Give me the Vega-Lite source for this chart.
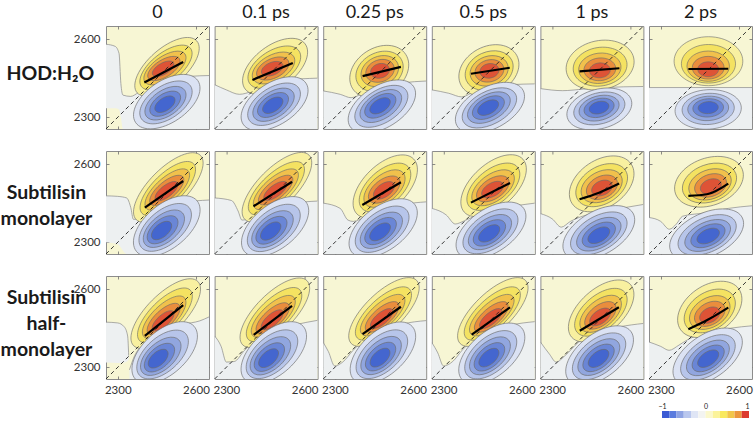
{
"$schema": "https://vega.github.io/schema/vega-lite/v6.json",
"padding": {"left": 0, "top": 4, "right": 2, "bottom": 0},
"background": "white",
"config": {
  "font": "Lato",
  "view": {"fill": "#f7f6d4", "stroke": "#8c8c8c", "strokeWidth": 1},
  "axis": {"ticks": false, "domain": false, "grid": true, "gridDash": [3, 97, 3], "gridColor": "#6f6f6f", "gridWidth": 0.8, "labelFontSize": 11.5, "labelColor": "#333333", "labelFont": "Lato"},
  "axisX": {"labelPadding": 5},
  "axisY": {"labelPadding": 6}
},
"datasets": {
"bar": [
{"i":0,"a":-1,"b":-0.8333},{"i":1,"a":-0.8333,"b":-0.6667},{"i":2,"a":-0.6667,"b":-0.5},{"i":3,"a":-0.5,"b":-0.3333},{"i":4,"a":-0.3333,"b":-0.1667},{"i":5,"a":-0.1667,"b":0},{"i":6,"a":0,"b":0.1667},{"i":7,"a":0.1667,"b":0.3333},{"i":8,"a":0.3333,"b":0.5},{"i":9,"a":0.5,"b":0.6667},{"i":10,"a":0.6667,"b":0.8333},{"i":11,"a":0.8333,"b":1}
],
"main": [
{"R":1,"C":1,"k":"z","g":1,"x":2255,"y":2580,"b":2335},{"R":1,"C":1,"k":"z","g":1,"x":2290,"y":2572,"b":2335},{"R":1,"C":1,"k":"z","g":1,"x":2305,"y":2545,"b":2330},{"R":1,"C":1,"k":"z","g":1,"x":2312,"y":2430,"b":2300},{"R":1,"C":1,"k":"z","g":1,"x":2320,"y":2385,"b":2255},{"R":1,"C":1,"k":"z","g":1,"x":2350,"y":2380,"b":2255},{"R":1,"C":1,"k":"z","g":1,"x":2380,"y":2395,"b":2255},{"R":1,"C":1,"k":"z","g":1,"x":2420,"y":2415,"b":2255},{"R":1,"C":1,"k":"z","g":1,"x":2460,"y":2435,"b":2255},{"R":1,"C":1,"k":"z","g":1,"x":2520,"y":2450,"b":2255},{"R":1,"C":1,"k":"z","g":1,"x":2580,"y":2457,"b":2255},{"R":1,"C":1,"k":"z","g":1,"x":2650,"y":2460,"b":2255},
{"R":1,"C":2,"k":"z","g":1,"x":2255,"y":2425,"b":2255},{"R":1,"C":2,"k":"z","g":1,"x":2300,"y":2405,"b":2255},{"R":1,"C":2,"k":"z","g":1,"x":2350,"y":2388,"b":2255},{"R":1,"C":2,"k":"z","g":1,"x":2400,"y":2400,"b":2255},{"R":1,"C":2,"k":"z","g":1,"x":2460,"y":2425,"b":2255},{"R":1,"C":2,"k":"z","g":1,"x":2530,"y":2442,"b":2255},{"R":1,"C":2,"k":"z","g":1,"x":2650,"y":2450,"b":2255},
{"R":1,"C":3,"k":"z","g":1,"x":2255,"y":2401,"b":2255},{"R":1,"C":3,"k":"z","g":1,"x":2320,"y":2388,"b":2255},{"R":1,"C":3,"k":"z","g":1,"x":2362,"y":2375,"b":2255},{"R":1,"C":3,"k":"z","g":1,"x":2420,"y":2398,"b":2255},{"R":1,"C":3,"k":"z","g":1,"x":2495,"y":2420,"b":2255},{"R":1,"C":3,"k":"z","g":1,"x":2560,"y":2432,"b":2255},{"R":1,"C":3,"k":"z","g":1,"x":2650,"y":2439,"b":2255},
{"R":1,"C":4,"k":"z","g":1,"x":2255,"y":2405,"b":2255},{"R":1,"C":4,"k":"z","g":1,"x":2320,"y":2392,"b":2255},{"R":1,"C":4,"k":"z","g":1,"x":2370,"y":2378,"b":2255},{"R":1,"C":4,"k":"z","g":1,"x":2420,"y":2400,"b":2255},{"R":1,"C":4,"k":"z","g":1,"x":2490,"y":2418,"b":2255},{"R":1,"C":4,"k":"z","g":1,"x":2560,"y":2425,"b":2255},{"R":1,"C":4,"k":"z","g":1,"x":2650,"y":2428,"b":2255},
{"R":1,"C":5,"k":"z","g":1,"x":2255,"y":2410,"b":2255},{"R":1,"C":5,"k":"z","g":1,"x":2340,"y":2402,"b":2255},{"R":1,"C":5,"k":"z","g":1,"x":2420,"y":2408,"b":2255},{"R":1,"C":5,"k":"z","g":1,"x":2500,"y":2414,"b":2255},{"R":1,"C":5,"k":"z","g":1,"x":2650,"y":2418,"b":2255},
{"R":1,"C":6,"k":"z","g":1,"x":2255,"y":2414,"b":2255},{"R":1,"C":6,"k":"z","g":1,"x":2650,"y":2414,"b":2255},
{"R":2,"C":1,"k":"z","g":1,"x":2255,"y":2478,"b":2300},{"R":2,"C":1,"k":"z","g":1,"x":2300,"y":2476,"b":2292},{"R":2,"C":1,"k":"z","g":1,"x":2334,"y":2470,"b":2255},{"R":2,"C":1,"k":"z","g":1,"x":2350,"y":2433,"b":2255},{"R":2,"C":1,"k":"z","g":1,"x":2360,"y":2388,"b":2255},{"R":2,"C":1,"k":"z","g":1,"x":2385,"y":2390,"b":2255},{"R":2,"C":1,"k":"z","g":1,"x":2420,"y":2405,"b":2255},{"R":2,"C":1,"k":"z","g":1,"x":2470,"y":2430,"b":2255},{"R":2,"C":1,"k":"z","g":1,"x":2550,"y":2452,"b":2255},{"R":2,"C":1,"k":"z","g":1,"x":2650,"y":2462,"b":2255},
{"R":2,"C":2,"k":"z","g":1,"x":2255,"y":2470,"b":2255},{"R":2,"C":2,"k":"z","g":1,"x":2320,"y":2460,"b":2255},{"R":2,"C":2,"k":"z","g":1,"x":2345,"y":2420,"b":2255},{"R":2,"C":2,"k":"z","g":1,"x":2360,"y":2385,"b":2255},{"R":2,"C":2,"k":"z","g":1,"x":2400,"y":2395,"b":2255},{"R":2,"C":2,"k":"z","g":1,"x":2470,"y":2425,"b":2255},{"R":2,"C":2,"k":"z","g":1,"x":2550,"y":2448,"b":2255},{"R":2,"C":2,"k":"z","g":1,"x":2650,"y":2458,"b":2255},
{"R":2,"C":3,"k":"z","g":1,"x":2255,"y":2450,"b":2255},{"R":2,"C":3,"k":"z","g":1,"x":2320,"y":2430,"b":2255},{"R":2,"C":3,"k":"z","g":1,"x":2350,"y":2385,"b":2255},{"R":2,"C":3,"k":"z","g":1,"x":2370,"y":2380,"b":2255},{"R":2,"C":3,"k":"z","g":1,"x":2420,"y":2400,"b":2255},{"R":2,"C":3,"k":"z","g":1,"x":2480,"y":2425,"b":2255},{"R":2,"C":3,"k":"z","g":1,"x":2560,"y":2445,"b":2255},{"R":2,"C":3,"k":"z","g":1,"x":2650,"y":2455,"b":2255},
{"R":2,"C":4,"k":"z","g":1,"x":2255,"y":2430,"b":2255},{"R":2,"C":4,"k":"z","g":1,"x":2310,"y":2405,"b":2255},{"R":2,"C":4,"k":"z","g":1,"x":2345,"y":2370,"b":2255},{"R":2,"C":4,"k":"z","g":1,"x":2375,"y":2380,"b":2255},{"R":2,"C":4,"k":"z","g":1,"x":2430,"y":2405,"b":2255},{"R":2,"C":4,"k":"z","g":1,"x":2500,"y":2425,"b":2255},{"R":2,"C":4,"k":"z","g":1,"x":2650,"y":2450,"b":2255},
{"R":2,"C":5,"k":"z","g":1,"x":2255,"y":2410,"b":2255},{"R":2,"C":5,"k":"z","g":1,"x":2300,"y":2390,"b":2255},{"R":2,"C":5,"k":"z","g":1,"x":2335,"y":2358,"b":2255},{"R":2,"C":5,"k":"z","g":1,"x":2370,"y":2380,"b":2255},{"R":2,"C":5,"k":"z","g":1,"x":2450,"y":2410,"b":2255},{"R":2,"C":5,"k":"z","g":1,"x":2550,"y":2428,"b":2255},{"R":2,"C":5,"k":"z","g":1,"x":2650,"y":2445,"b":2255},
{"R":2,"C":6,"k":"z","g":1,"x":2255,"y":2395,"b":2255},{"R":2,"C":6,"k":"z","g":1,"x":2300,"y":2380,"b":2255},{"R":2,"C":6,"k":"z","g":1,"x":2333,"y":2350,"b":2255},{"R":2,"C":6,"k":"z","g":1,"x":2360,"y":2370,"b":2255},{"R":2,"C":6,"k":"z","g":1,"x":2384,"y":2400,"b":2255},{"R":2,"C":6,"k":"z","g":1,"x":2473,"y":2413,"b":2255},{"R":2,"C":6,"k":"z","g":1,"x":2560,"y":2430,"b":2255},{"R":2,"C":6,"k":"z","g":1,"x":2650,"y":2440,"b":2255},
{"R":3,"C":1,"k":"z","g":1,"x":2255,"y":2473,"b":2318},{"R":3,"C":1,"k":"z","g":1,"x":2300,"y":2470,"b":2316},{"R":3,"C":1,"k":"z","g":1,"x":2325,"y":2455,"b":2318},{"R":3,"C":1,"k":"z","g":1,"x":2338,"y":2420,"b":2325},{"R":3,"C":1,"k":"z","g":1,"x":2342,"y":2345,"b":2330},
{"R":3,"C":1,"k":"z","g":2,"x":2345,"y":2290,"b":2255},{"R":3,"C":1,"k":"z","g":2,"x":2365,"y":2345,"b":2255},{"R":3,"C":1,"k":"z","g":2,"x":2380,"y":2370,"b":2255},{"R":3,"C":1,"k":"z","g":2,"x":2424,"y":2414,"b":2255},{"R":3,"C":1,"k":"z","g":2,"x":2487,"y":2446,"b":2255},{"R":3,"C":1,"k":"z","g":2,"x":2550,"y":2465,"b":2255},{"R":3,"C":1,"k":"z","g":2,"x":2615,"y":2478,"b":2255},{"R":3,"C":1,"k":"z","g":2,"x":2650,"y":2493,"b":2255},
{"R":3,"C":2,"k":"z","g":1,"x":2255,"y":2420,"b":2255},{"R":3,"C":2,"k":"z","g":1,"x":2280,"y":2380,"b":2255},{"R":3,"C":2,"k":"z","g":1,"x":2300,"y":2320,"b":2255},{"R":3,"C":2,"k":"z","g":1,"x":2330,"y":2322,"b":2255},{"R":3,"C":2,"k":"z","g":1,"x":2370,"y":2365,"b":2255},{"R":3,"C":2,"k":"z","g":1,"x":2430,"y":2418,"b":2255},{"R":3,"C":2,"k":"z","g":1,"x":2500,"y":2445,"b":2255},{"R":3,"C":2,"k":"z","g":1,"x":2560,"y":2462,"b":2255},{"R":3,"C":2,"k":"z","g":1,"x":2650,"y":2480,"b":2255},
{"R":3,"C":3,"k":"z","g":1,"x":2255,"y":2395,"b":2255},{"R":3,"C":3,"k":"z","g":1,"x":2275,"y":2360,"b":2255},{"R":3,"C":3,"k":"z","g":1,"x":2299,"y":2305,"b":2255},{"R":3,"C":3,"k":"z","g":1,"x":2330,"y":2320,"b":2255},{"R":3,"C":3,"k":"z","g":1,"x":2369,"y":2364,"b":2255},{"R":3,"C":3,"k":"z","g":1,"x":2433,"y":2422,"b":2255},{"R":3,"C":3,"k":"z","g":1,"x":2500,"y":2447,"b":2255},{"R":3,"C":3,"k":"z","g":1,"x":2560,"y":2466,"b":2255},{"R":3,"C":3,"k":"z","g":1,"x":2650,"y":2479,"b":2255},
{"R":3,"C":4,"k":"z","g":1,"x":2255,"y":2395,"b":2255},{"R":3,"C":4,"k":"z","g":1,"x":2278,"y":2355,"b":2255},{"R":3,"C":4,"k":"z","g":1,"x":2300,"y":2305,"b":2255},{"R":3,"C":4,"k":"z","g":1,"x":2335,"y":2322,"b":2255},{"R":3,"C":4,"k":"z","g":1,"x":2372,"y":2366,"b":2255},{"R":3,"C":4,"k":"z","g":1,"x":2435,"y":2420,"b":2255},{"R":3,"C":4,"k":"z","g":1,"x":2500,"y":2445,"b":2255},{"R":3,"C":4,"k":"z","g":1,"x":2560,"y":2462,"b":2255},{"R":3,"C":4,"k":"z","g":1,"x":2650,"y":2475,"b":2255},
{"R":3,"C":5,"k":"z","g":1,"x":2255,"y":2397,"b":2255},{"R":3,"C":5,"k":"z","g":1,"x":2290,"y":2350,"b":2255},{"R":3,"C":5,"k":"z","g":1,"x":2315,"y":2320,"b":2255},{"R":3,"C":5,"k":"z","g":1,"x":2350,"y":2345,"b":2255},{"R":3,"C":5,"k":"z","g":1,"x":2400,"y":2395,"b":2255},{"R":3,"C":5,"k":"z","g":1,"x":2470,"y":2430,"b":2255},{"R":3,"C":5,"k":"z","g":1,"x":2560,"y":2455,"b":2255},{"R":3,"C":5,"k":"z","g":1,"x":2650,"y":2468,"b":2255},
{"R":3,"C":6,"k":"z","g":1,"x":2255,"y":2397,"b":2255},{"R":3,"C":6,"k":"z","g":1,"x":2300,"y":2380,"b":2255},{"R":3,"C":6,"k":"z","g":1,"x":2332,"y":2365,"b":2255},{"R":3,"C":6,"k":"z","g":1,"x":2370,"y":2385,"b":2255},{"R":3,"C":6,"k":"z","g":1,"x":2409,"y":2409,"b":2255},{"R":3,"C":6,"k":"z","g":1,"x":2498,"y":2435,"b":2255},{"R":3,"C":6,"k":"z","g":1,"x":2570,"y":2450,"b":2255},{"R":3,"C":6,"k":"z","g":1,"x":2650,"y":2459,"b":2255},

{"R":1,"C":1,"k":"e","v":0.17,"m":0.17,"x":2489,"y":2493,"t":41,"f":"a"},{"R":1,"C":1,"k":"e","v":0.33,"m":0.33,"x":2485,"y":2491,"t":38,"f":"a"},{"R":1,"C":1,"k":"e","v":0.5,"m":0.5,"x":2481,"y":2489,"t":35,"f":"a"},{"R":1,"C":1,"k":"e","v":0.67,"m":0.67,"x":2477,"y":2487,"t":32,"f":"a"},{"R":1,"C":1,"k":"e","v":0.83,"m":0.83,"x":2474,"y":2486,"t":30,"f":"a"},
{"R":1,"C":1,"k":"e","v":-0.17,"m":0.17,"x":2488,"y":2360,"t":34,"f":"b"},{"R":1,"C":1,"k":"e","v":-0.33,"m":0.33,"x":2485,"y":2357,"t":34,"f":"b"},{"R":1,"C":1,"k":"e","v":-0.5,"m":0.5,"x":2483,"y":2354,"t":34,"f":"b"},{"R":1,"C":1,"k":"e","v":-0.67,"m":0.67,"x":2482,"y":2352,"t":34,"f":"b"},{"R":1,"C":1,"k":"e","v":-0.83,"m":0.83,"x":2481,"y":2350,"t":34,"f":"b"},
{"R":1,"C":2,"k":"e","v":0.17,"m":0.17,"x":2487,"y":2495,"t":37,"f":"b"},{"R":1,"C":2,"k":"e","v":0.33,"m":0.33,"x":2484,"y":2492,"t":33,"f":"b"},{"R":1,"C":2,"k":"e","v":0.5,"m":0.5,"x":2481,"y":2489,"t":29,"f":"b"},{"R":1,"C":2,"k":"e","v":0.67,"m":0.67,"x":2478,"y":2487,"t":26,"f":"b"},{"R":1,"C":2,"k":"e","v":0.83,"m":0.83,"x":2476,"y":2486,"t":23,"f":"b"},
{"R":1,"C":2,"k":"e","v":-0.17,"m":0.17,"x":2485,"y":2352,"t":33,"f":"b"},{"R":1,"C":2,"k":"e","v":-0.33,"m":0.33,"x":2483,"y":2350,"t":33,"f":"b"},{"R":1,"C":2,"k":"e","v":-0.5,"m":0.5,"x":2481,"y":2348,"t":33,"f":"b"},{"R":1,"C":2,"k":"e","v":-0.67,"m":0.67,"x":2479,"y":2347,"t":33,"f":"b"},{"R":1,"C":2,"k":"e","v":-0.83,"m":0.83,"x":2478,"y":2346,"t":33,"f":"b"},
{"R":1,"C":3,"k":"e","v":0.17,"m":0.17,"x":2470,"y":2475,"t":33,"f":"c"},{"R":1,"C":3,"k":"e","v":0.33,"m":0.33,"x":2471,"y":2476,"t":28,"f":"c"},{"R":1,"C":3,"k":"e","v":0.5,"m":0.5,"x":2472,"y":2477,"t":24,"f":"c"},{"R":1,"C":3,"k":"e","v":0.67,"m":0.67,"x":2473,"y":2478,"t":20,"f":"c"},{"R":1,"C":3,"k":"e","v":0.83,"m":0.83,"x":2473,"y":2478,"t":16,"f":"c"},
{"R":1,"C":3,"k":"e","v":-0.17,"m":0.17,"x":2480,"y":2341,"t":32,"f":"b"},{"R":1,"C":3,"k":"e","v":-0.33,"m":0.33,"x":2478,"y":2342,"t":32,"f":"b"},{"R":1,"C":3,"k":"e","v":-0.5,"m":0.5,"x":2476,"y":2343,"t":32,"f":"b"},{"R":1,"C":3,"k":"e","v":-0.67,"m":0.67,"x":2474,"y":2344,"t":32,"f":"b"},{"R":1,"C":3,"k":"e","v":-0.83,"m":0.83,"x":2473,"y":2344,"t":32,"f":"b"},
{"R":1,"C":4,"k":"e","v":0.17,"m":0.17,"x":2474,"y":2480,"t":28,"f":"c"},{"R":1,"C":4,"k":"e","v":0.33,"m":0.33,"x":2475,"y":2479,"t":24,"f":"c"},{"R":1,"C":4,"k":"e","v":0.5,"m":0.5,"x":2475,"y":2478,"t":19,"f":"c"},{"R":1,"C":4,"k":"e","v":0.67,"m":0.67,"x":2476,"y":2478,"t":15,"f":"c"},{"R":1,"C":4,"k":"e","v":0.83,"m":0.83,"x":2476,"y":2478,"t":11,"f":"c"},
{"R":1,"C":4,"k":"e","v":-0.17,"m":0.17,"x":2478,"y":2336,"t":28,"f":"b"},{"R":1,"C":4,"k":"e","v":-0.33,"m":0.33,"x":2476,"y":2336,"t":28,"f":"b"},{"R":1,"C":4,"k":"e","v":-0.5,"m":0.5,"x":2474,"y":2337,"t":28,"f":"b"},{"R":1,"C":4,"k":"e","v":-0.67,"m":0.67,"x":2472,"y":2337,"t":28,"f":"b"},{"R":1,"C":4,"k":"e","v":-0.83,"m":0.83,"x":2471,"y":2337,"t":28,"f":"b"},
{"R":1,"C":5,"k":"e","v":0.17,"m":0.17,"x":2484,"y":2500,"t":12,"f":"d"},{"R":1,"C":5,"k":"e","v":0.33,"m":0.33,"x":2484,"y":2494,"t":9,"f":"d"},{"R":1,"C":5,"k":"e","v":0.5,"m":0.5,"x":2483,"y":2488,"t":7,"f":"d"},{"R":1,"C":5,"k":"e","v":0.67,"m":0.67,"x":2483,"y":2484,"t":5,"f":"d"},{"R":1,"C":5,"k":"e","v":0.83,"m":0.83,"x":2483,"y":2480,"t":4,"f":"d"},
{"R":1,"C":5,"k":"e","v":-0.17,"m":0.17,"x":2481,"y":2332,"t":15,"f":"h"},{"R":1,"C":5,"k":"e","v":-0.33,"m":0.33,"x":2481,"y":2334,"t":15,"f":"h"},{"R":1,"C":5,"k":"e","v":-0.5,"m":0.5,"x":2480,"y":2335,"t":15,"f":"h"},{"R":1,"C":5,"k":"e","v":-0.67,"m":0.67,"x":2480,"y":2336,"t":15,"f":"h"},{"R":1,"C":5,"k":"e","v":-0.83,"m":0.83,"x":2480,"y":2337,"t":15,"f":"h"},
{"R":1,"C":6,"k":"e","v":0.17,"m":0.17,"x":2483,"y":2515,"t":0,"f":"d"},{"R":1,"C":6,"k":"e","v":0.33,"m":0.33,"x":2483,"y":2505,"t":0,"f":"d"},{"R":1,"C":6,"k":"e","v":0.5,"m":0.5,"x":2482,"y":2496,"t":0,"f":"d"},{"R":1,"C":6,"k":"e","v":0.67,"m":0.67,"x":2482,"y":2490,"t":0,"f":"d"},{"R":1,"C":6,"k":"e","v":0.83,"m":0.83,"x":2482,"y":2484,"t":0,"f":"d"},
{"R":1,"C":6,"k":"e","v":-0.17,"m":0.17,"x":2482,"y":2330,"t":4,"f":"h"},{"R":1,"C":6,"k":"e","v":-0.33,"m":0.33,"x":2482,"y":2332,"t":4,"f":"h"},{"R":1,"C":6,"k":"e","v":-0.5,"m":0.5,"x":2482,"y":2334,"t":4,"f":"h"},{"R":1,"C":6,"k":"e","v":-0.67,"m":0.67,"x":2482,"y":2336,"t":4,"f":"h"},{"R":1,"C":6,"k":"e","v":-0.83,"m":0.83,"x":2482,"y":2337,"t":4,"f":"h"},
{"R":2,"C":1,"k":"e","v":0.17,"m":0.17,"x":2494,"y":2510,"t":45,"f":"e"},{"R":2,"C":1,"k":"e","v":0.33,"m":0.33,"x":2492,"y":2506,"t":44,"f":"e"},{"R":2,"C":1,"k":"e","v":0.5,"m":0.5,"x":2490,"y":2502,"t":42,"f":"e"},{"R":2,"C":1,"k":"e","v":0.67,"m":0.67,"x":2488,"y":2499,"t":40,"f":"e"},{"R":2,"C":1,"k":"e","v":0.83,"m":0.83,"x":2487,"y":2496,"t":38,"f":"e"},
{"R":2,"C":1,"k":"e","v":-0.17,"m":0.17,"x":2488,"y":2362,"t":40,"f":"f"},{"R":2,"C":1,"k":"e","v":-0.33,"m":0.33,"x":2482,"y":2357,"t":40,"f":"f"},{"R":2,"C":1,"k":"e","v":-0.5,"m":0.5,"x":2477,"y":2352,"t":40,"f":"f"},{"R":2,"C":1,"k":"e","v":-0.67,"m":0.67,"x":2472,"y":2348,"t":40,"f":"f"},{"R":2,"C":1,"k":"e","v":-0.83,"m":0.83,"x":2468,"y":2345,"t":40,"f":"f"},
{"R":2,"C":2,"k":"e","v":0.17,"m":0.17,"x":2494,"y":2511,"t":45,"f":"e"},{"R":2,"C":2,"k":"e","v":0.33,"m":0.33,"x":2492,"y":2507,"t":43,"f":"e"},{"R":2,"C":2,"k":"e","v":0.5,"m":0.5,"x":2490,"y":2503,"t":41,"f":"e"},{"R":2,"C":2,"k":"e","v":0.67,"m":0.67,"x":2489,"y":2500,"t":39,"f":"e"},{"R":2,"C":2,"k":"e","v":0.83,"m":0.83,"x":2488,"y":2497,"t":37,"f":"e"},
{"R":2,"C":2,"k":"e","v":-0.17,"m":0.17,"x":2487,"y":2360,"t":39,"f":"f"},{"R":2,"C":2,"k":"e","v":-0.33,"m":0.33,"x":2482,"y":2355,"t":39,"f":"f"},{"R":2,"C":2,"k":"e","v":-0.5,"m":0.5,"x":2477,"y":2350,"t":39,"f":"f"},{"R":2,"C":2,"k":"e","v":-0.67,"m":0.67,"x":2473,"y":2346,"t":39,"f":"f"},{"R":2,"C":2,"k":"e","v":-0.83,"m":0.83,"x":2470,"y":2343,"t":39,"f":"f"},
{"R":2,"C":3,"k":"e","v":0.17,"m":0.17,"x":2493,"y":2514,"t":44,"f":"f"},{"R":2,"C":3,"k":"e","v":0.33,"m":0.33,"x":2492,"y":2510,"t":42,"f":"f"},{"R":2,"C":3,"k":"e","v":0.5,"m":0.5,"x":2490,"y":2506,"t":40,"f":"f"},{"R":2,"C":3,"k":"e","v":0.67,"m":0.67,"x":2489,"y":2502,"t":37,"f":"f"},{"R":2,"C":3,"k":"e","v":0.83,"m":0.83,"x":2488,"y":2499,"t":35,"f":"f"},
{"R":2,"C":3,"k":"e","v":-0.17,"m":0.17,"x":2485,"y":2354,"t":37,"f":"f"},{"R":2,"C":3,"k":"e","v":-0.33,"m":0.33,"x":2481,"y":2350,"t":37,"f":"f"},{"R":2,"C":3,"k":"e","v":-0.5,"m":0.5,"x":2478,"y":2346,"t":37,"f":"f"},{"R":2,"C":3,"k":"e","v":-0.67,"m":0.67,"x":2475,"y":2343,"t":37,"f":"f"},{"R":2,"C":3,"k":"e","v":-0.83,"m":0.83,"x":2473,"y":2340,"t":37,"f":"f"},
{"R":2,"C":4,"k":"e","v":0.17,"m":0.17,"x":2492,"y":2517,"t":42,"f":"f"},{"R":2,"C":4,"k":"e","v":0.33,"m":0.33,"x":2491,"y":2513,"t":39,"f":"f"},{"R":2,"C":4,"k":"e","v":0.5,"m":0.5,"x":2490,"y":2509,"t":36,"f":"f"},{"R":2,"C":4,"k":"e","v":0.67,"m":0.67,"x":2489,"y":2505,"t":33,"f":"f"},{"R":2,"C":4,"k":"e","v":0.83,"m":0.83,"x":2488,"y":2502,"t":30,"f":"f"},
{"R":2,"C":4,"k":"e","v":-0.17,"m":0.17,"x":2482,"y":2345,"t":34,"f":"f"},{"R":2,"C":4,"k":"e","v":-0.33,"m":0.33,"x":2480,"y":2342,"t":34,"f":"f"},{"R":2,"C":4,"k":"e","v":-0.5,"m":0.5,"x":2478,"y":2339,"t":34,"f":"f"},{"R":2,"C":4,"k":"e","v":-0.67,"m":0.67,"x":2476,"y":2336,"t":34,"f":"f"},{"R":2,"C":4,"k":"e","v":-0.83,"m":0.83,"x":2475,"y":2334,"t":34,"f":"f"},
{"R":2,"C":5,"k":"e","v":0.17,"m":0.17,"x":2490,"y":2524,"t":34,"f":"g"},{"R":2,"C":5,"k":"e","v":0.33,"m":0.33,"x":2490,"y":2519,"t":31,"f":"g"},{"R":2,"C":5,"k":"e","v":0.5,"m":0.5,"x":2490,"y":2515,"t":28,"f":"g"},{"R":2,"C":5,"k":"e","v":0.67,"m":0.67,"x":2491,"y":2511,"t":26,"f":"g"},{"R":2,"C":5,"k":"e","v":0.83,"m":0.83,"x":2491,"y":2508,"t":24,"f":"g"},
{"R":2,"C":5,"k":"e","v":-0.17,"m":0.17,"x":2479,"y":2336,"t":30,"f":"f"},{"R":2,"C":5,"k":"e","v":-0.33,"m":0.33,"x":2479,"y":2334,"t":30,"f":"f"},{"R":2,"C":5,"k":"e","v":-0.5,"m":0.5,"x":2479,"y":2331,"t":30,"f":"f"},{"R":2,"C":5,"k":"e","v":-0.67,"m":0.67,"x":2479,"y":2329,"t":30,"f":"f"},{"R":2,"C":5,"k":"e","v":-0.83,"m":0.83,"x":2479,"y":2327,"t":30,"f":"f"},
{"R":2,"C":6,"k":"e","v":0.17,"m":0.17,"x":2485,"y":2532,"t":20,"f":"g"},{"R":2,"C":6,"k":"e","v":0.33,"m":0.33,"x":2487,"y":2527,"t":20,"f":"g"},{"R":2,"C":6,"k":"e","v":0.5,"m":0.5,"x":2489,"y":2522,"t":20,"f":"g"},{"R":2,"C":6,"k":"e","v":0.67,"m":0.67,"x":2491,"y":2518,"t":20,"f":"g"},{"R":2,"C":6,"k":"e","v":0.83,"m":0.83,"x":2492,"y":2514,"t":20,"f":"g"},
{"R":2,"C":6,"k":"e","v":-0.17,"m":0.17,"x":2476,"y":2329,"t":25,"f":"f"},{"R":2,"C":6,"k":"e","v":-0.33,"m":0.33,"x":2478,"y":2328,"t":25,"f":"f"},{"R":2,"C":6,"k":"e","v":-0.5,"m":0.5,"x":2480,"y":2326,"t":25,"f":"f"},{"R":2,"C":6,"k":"e","v":-0.67,"m":0.67,"x":2481,"y":2325,"t":25,"f":"f"},{"R":2,"C":6,"k":"e","v":-0.83,"m":0.83,"x":2482,"y":2324,"t":25,"f":"f"},
{"R":3,"C":1,"k":"e","v":0.17,"m":0.17,"x":2484,"y":2506,"t":45,"f":"e"},{"R":3,"C":1,"k":"e","v":0.33,"m":0.33,"x":2481,"y":2499,"t":45,"f":"e"},{"R":3,"C":1,"k":"e","v":0.5,"m":0.5,"x":2478,"y":2492,"t":44,"f":"e"},{"R":3,"C":1,"k":"e","v":0.67,"m":0.67,"x":2476,"y":2485,"t":43,"f":"e"},{"R":3,"C":1,"k":"e","v":0.83,"m":0.83,"x":2474,"y":2478,"t":42,"f":"e"},
{"R":3,"C":1,"k":"e","v":-0.17,"m":0.17,"x":2480,"y":2356,"t":42,"f":"f"},{"R":3,"C":1,"k":"e","v":-0.33,"m":0.33,"x":2472,"y":2349,"t":42,"f":"f"},{"R":3,"C":1,"k":"e","v":-0.5,"m":0.5,"x":2465,"y":2342,"t":42,"f":"f"},{"R":3,"C":1,"k":"e","v":-0.67,"m":0.67,"x":2460,"y":2337,"t":42,"f":"f"},{"R":3,"C":1,"k":"e","v":-0.83,"m":0.83,"x":2455,"y":2333,"t":42,"f":"f"},
{"R":3,"C":2,"k":"e","v":0.17,"m":0.17,"x":2486,"y":2509,"t":45,"f":"e"},{"R":3,"C":2,"k":"e","v":0.33,"m":0.33,"x":2483,"y":2502,"t":44,"f":"e"},{"R":3,"C":2,"k":"e","v":0.5,"m":0.5,"x":2480,"y":2495,"t":43,"f":"e"},{"R":3,"C":2,"k":"e","v":0.67,"m":0.67,"x":2478,"y":2488,"t":42,"f":"e"},{"R":3,"C":2,"k":"e","v":0.83,"m":0.83,"x":2476,"y":2482,"t":41,"f":"e"},
{"R":3,"C":2,"k":"e","v":-0.17,"m":0.17,"x":2482,"y":2356,"t":42,"f":"f"},{"R":3,"C":2,"k":"e","v":-0.33,"m":0.33,"x":2475,"y":2350,"t":42,"f":"f"},{"R":3,"C":2,"k":"e","v":-0.5,"m":0.5,"x":2469,"y":2344,"t":42,"f":"f"},{"R":3,"C":2,"k":"e","v":-0.67,"m":0.67,"x":2465,"y":2339,"t":42,"f":"f"},{"R":3,"C":2,"k":"e","v":-0.83,"m":0.83,"x":2462,"y":2335,"t":42,"f":"f"},
{"R":3,"C":3,"k":"e","v":0.17,"m":0.17,"x":2488,"y":2512,"t":44,"f":"e"},{"R":3,"C":3,"k":"e","v":0.33,"m":0.33,"x":2486,"y":2506,"t":43,"f":"e"},{"R":3,"C":3,"k":"e","v":0.5,"m":0.5,"x":2483,"y":2500,"t":42,"f":"e"},{"R":3,"C":3,"k":"e","v":0.67,"m":0.67,"x":2481,"y":2493,"t":41,"f":"e"},{"R":3,"C":3,"k":"e","v":0.83,"m":0.83,"x":2479,"y":2487,"t":40,"f":"e"},
{"R":3,"C":3,"k":"e","v":-0.17,"m":0.17,"x":2484,"y":2355,"t":42,"f":"f"},{"R":3,"C":3,"k":"e","v":-0.33,"m":0.33,"x":2480,"y":2350,"t":42,"f":"f"},{"R":3,"C":3,"k":"e","v":-0.5,"m":0.5,"x":2477,"y":2345,"t":42,"f":"f"},{"R":3,"C":3,"k":"e","v":-0.67,"m":0.67,"x":2475,"y":2341,"t":42,"f":"f"},{"R":3,"C":3,"k":"e","v":-0.83,"m":0.83,"x":2473,"y":2337,"t":42,"f":"f"},
{"R":3,"C":4,"k":"e","v":0.17,"m":0.17,"x":2489,"y":2512,"t":44,"f":"e"},{"R":3,"C":4,"k":"e","v":0.33,"m":0.33,"x":2487,"y":2506,"t":43,"f":"e"},{"R":3,"C":4,"k":"e","v":0.5,"m":0.5,"x":2485,"y":2500,"t":42,"f":"e"},{"R":3,"C":4,"k":"e","v":0.67,"m":0.67,"x":2483,"y":2493,"t":41,"f":"e"},{"R":3,"C":4,"k":"e","v":0.83,"m":0.83,"x":2481,"y":2487,"t":40,"f":"e"},
{"R":3,"C":4,"k":"e","v":-0.17,"m":0.17,"x":2485,"y":2352,"t":41,"f":"f"},{"R":3,"C":4,"k":"e","v":-0.33,"m":0.33,"x":2481,"y":2348,"t":41,"f":"f"},{"R":3,"C":4,"k":"e","v":-0.5,"m":0.5,"x":2478,"y":2344,"t":41,"f":"f"},{"R":3,"C":4,"k":"e","v":-0.67,"m":0.67,"x":2476,"y":2340,"t":41,"f":"f"},{"R":3,"C":4,"k":"e","v":-0.83,"m":0.83,"x":2474,"y":2337,"t":41,"f":"f"},
{"R":3,"C":5,"k":"e","v":0.17,"m":0.17,"x":2488,"y":2516,"t":42,"f":"f"},{"R":3,"C":5,"k":"e","v":0.33,"m":0.33,"x":2487,"y":2511,"t":40,"f":"f"},{"R":3,"C":5,"k":"e","v":0.5,"m":0.5,"x":2486,"y":2505,"t":39,"f":"f"},{"R":3,"C":5,"k":"e","v":0.67,"m":0.67,"x":2485,"y":2499,"t":38,"f":"f"},{"R":3,"C":5,"k":"e","v":0.83,"m":0.83,"x":2484,"y":2493,"t":36,"f":"f"},
{"R":3,"C":5,"k":"e","v":-0.17,"m":0.17,"x":2482,"y":2345,"t":38,"f":"f"},{"R":3,"C":5,"k":"e","v":-0.33,"m":0.33,"x":2480,"y":2342,"t":38,"f":"f"},{"R":3,"C":5,"k":"e","v":-0.5,"m":0.5,"x":2479,"y":2339,"t":38,"f":"f"},{"R":3,"C":5,"k":"e","v":-0.67,"m":0.67,"x":2478,"y":2336,"t":38,"f":"f"},{"R":3,"C":5,"k":"e","v":-0.83,"m":0.83,"x":2478,"y":2334,"t":38,"f":"f"},
{"R":3,"C":6,"k":"e","v":0.17,"m":0.17,"x":2488,"y":2522,"t":35,"f":"g"},{"R":3,"C":6,"k":"e","v":0.33,"m":0.33,"x":2488,"y":2516,"t":33,"f":"g"},{"R":3,"C":6,"k":"e","v":0.5,"m":0.5,"x":2488,"y":2510,"t":31,"f":"g"},{"R":3,"C":6,"k":"e","v":0.67,"m":0.67,"x":2488,"y":2505,"t":30,"f":"g"},{"R":3,"C":6,"k":"e","v":0.83,"m":0.83,"x":2488,"y":2500,"t":28,"f":"g"},
{"R":3,"C":6,"k":"e","v":-0.17,"m":0.17,"x":2480,"y":2340,"t":35,"f":"f"},{"R":3,"C":6,"k":"e","v":-0.33,"m":0.33,"x":2481,"y":2338,"t":35,"f":"f"},{"R":3,"C":6,"k":"e","v":-0.5,"m":0.5,"x":2481,"y":2336,"t":35,"f":"f"},{"R":3,"C":6,"k":"e","v":-0.67,"m":0.67,"x":2482,"y":2334,"t":35,"f":"f"},{"R":3,"C":6,"k":"e","v":-0.83,"m":0.83,"x":2482,"y":2333,"t":35,"f":"f"},

{"R":1,"C":1,"k":"c","x":2402,"y":2433},{"R":1,"C":1,"k":"c","x":2551,"y":2512},
{"R":1,"C":2,"k":"c","x":2400,"y":2443},{"R":1,"C":2,"k":"c","x":2555,"y":2508},
{"R":1,"C":3,"k":"c","x":2406,"y":2458},{"R":1,"C":3,"k":"c","x":2553,"y":2493},
{"R":1,"C":4,"k":"c","x":2405,"y":2467},{"R":1,"C":4,"k":"c","x":2554,"y":2490},
{"R":1,"C":5,"k":"c","x":2405,"y":2476},{"R":1,"C":5,"k":"c","x":2558,"y":2488},
{"R":1,"C":6,"k":"c","x":2406,"y":2485},{"R":1,"C":6,"k":"c","x":2559,"y":2486},
{"R":2,"C":1,"k":"c","x":2404,"y":2433},{"R":2,"C":1,"k":"c","x":2551,"y":2535},
{"R":2,"C":2,"k":"c","x":2404,"y":2438},{"R":2,"C":2,"k":"c","x":2552,"y":2532},
{"R":2,"C":3,"k":"c","x":2405,"y":2443},{"R":2,"C":3,"k":"c","x":2553,"y":2530},
{"R":2,"C":4,"k":"c","x":2405,"y":2452},{"R":2,"C":4,"k":"c","x":2555,"y":2527},
{"R":2,"C":5,"k":"c","x":2405,"y":2465},{"R":2,"C":5,"k":"c","x":2480,"y":2490},{"R":2,"C":5,"k":"c","x":2557,"y":2525},
{"R":2,"C":6,"k":"c","x":2406,"y":2478},{"R":2,"C":6,"k":"c","x":2477,"y":2484},{"R":2,"C":6,"k":"c","x":2559,"y":2525},
{"R":3,"C":1,"k":"c","x":2404,"y":2420},{"R":3,"C":1,"k":"c","x":2551,"y":2538},
{"R":3,"C":2,"k":"c","x":2405,"y":2424},{"R":3,"C":2,"k":"c","x":2552,"y":2535},
{"R":3,"C":3,"k":"c","x":2406,"y":2427},{"R":3,"C":3,"k":"c","x":2553,"y":2532},
{"R":3,"C":4,"k":"c","x":2408,"y":2425},{"R":3,"C":4,"k":"c","x":2555,"y":2530},
{"R":3,"C":5,"k":"c","x":2406,"y":2440},{"R":3,"C":5,"k":"c","x":2556,"y":2530},
{"R":3,"C":6,"k":"c","x":2406,"y":2446},{"R":3,"C":6,"k":"c","x":2480,"y":2482},{"R":3,"C":6,"k":"c","x":2559,"y":2529}
]
},
"vconcat": [
{
  "data": {"name": "main"},
  "bounds": "flush",
  "facet": {
    "row": {"field": "R", "type": "ordinal", "title": null,
      "header": {"labelAngle": 0, "labelAlign": "center", "labelAnchor": "end", "labelBaseline": "top", "labelFontSize": 19.5, "labelFontWeight": "bold", "labelLineHeight": 6.5, "labelPadding": -65, "labelColor": "#1a1a1a", "labelFont": "Lato",
        "labelExpr": "datum.value == 1 ? ['\u200b', '\u200b', '\u200b', '\u200b', '\u200b', '\u200b', 'HOD:H₂O'] : datum.value == 2 ? ['\u200b', '\u200b', '\u200b', '\u200b', '\u200b', 'Subtilisin', '\u200b', '\u200b', '\u200b', 'monolayer'] : ['\u200b', '\u200b', 'Subtilisin', '\u200b', '\u200b', '\u200b', 'half-', '\u200b', '\u200b', '\u200b', 'monolayer']"}},
    "column": {"field": "C", "type": "ordinal", "title": null,
      "header": {"labelFontSize": 18, "labelColor": "#1a1a1a", "labelPadding": 4, "labelFont": "Lato",
        "labelExpr": "['0', '0.1 ps', '0.25 ps', '0.5 ps', '1 ps', '2 ps'][datum.value - 1]"}}
  },
  "spacing": {"row": 22, "column": 5.6},
  "spec": {
    "width": 103, "height": 103,
    "layer": [
      {
        "transform": [{"filter": "datum.k == 'z'"}],
        "mark": {"type": "area", "color": "#edf0f1", "clip": true, "interpolate": "monotone"},
        "encoding": {
          "x": {"field": "x", "type": "quantitative", "title": null, "scale": {"domain": [2255, 2650], "nice": false, "zero": false}, "axis": {"values": [2300, 2400, 2500, 2600], "labelExpr": "datum.value == 2300 || datum.value == 2600 ? format(datum.value, 'd') : ''"}},
          "y": {"field": "y", "type": "quantitative", "title": null, "scale": {"domain": [2255, 2650], "nice": false, "zero": false}, "axis": {"values": [2300, 2400, 2500, 2600], "labelExpr": "datum.value == 2300 || datum.value == 2600 ? format(datum.value, 'd') : ''"}},
          "y2": {"field": "b"},
          "detail": {"field": "g"}
        }
      },
      {
        "transform": [{"filter": "datum.k == 'z'"}],
        "mark": {"type": "line", "color": "#8a8a8a", "strokeWidth": 0.7, "clip": true, "interpolate": "monotone"},
        "encoding": {
          "x": {"field": "x", "type": "quantitative", "title": null},
          "y": {"field": "y", "type": "quantitative", "title": null},
          "detail": {"field": "g"}
        }
      },
      {
        "transform": [{"filter": "datum.k == 'e'"}],
        "mark": {"type": "point", "filled": true, "opacity": 1, "stroke": "#6a6a6a", "strokeWidth": 0.6, "clip": true},
        "encoding": {
          "x": {"field": "x", "type": "quantitative", "title": null},
          "y": {"field": "y", "type": "quantitative", "title": null},
          "color": {"field": "v", "type": "quantitative", "legend": null, "scale": {"type": "threshold", "domain": [-0.75, -0.58, -0.42, -0.25, 0, 0.25, 0.42, 0.58, 0.75], "range": ["#4466cf", "#6a86d6", "#91a6df", "#b7c5ea", "#dbe2f3", "#f8f0a0", "#f4e261", "#f1c14c", "#ea8d3d", "#de5336"]}},
          "size": {"field": "m", "type": "quantitative", "legend": null, "scale": {"type": "log", "domain": [0.17, 0.83], "range": [6241, 576]}},
          "shape": {"field": "f", "type": "nominal", "legend": null, "scale": {"domain": ["a", "b", "c", "d", "e", "f", "g", "h"], "range": [
            "M-1,0C-1,-0.26,-0.552,-0.47,0,-0.47C0.552,-0.47,1,-0.26,1,0C1,0.26,0.552,0.47,0,0.47C-0.552,0.47,-1,0.26,-1,0Z",
            "M-0.95,0C-0.95,-0.293,-0.525,-0.53,0,-0.53C0.525,-0.53,0.95,-0.293,0.95,0C0.95,0.293,0.525,0.53,0,0.53C-0.525,0.53,-0.95,0.293,-0.95,0Z",
            "M-0.8,0C-0.8,-0.331,-0.442,-0.6,0,-0.6C0.442,-0.6,0.8,-0.331,0.8,0C0.8,0.331,0.442,0.6,0,0.6C-0.442,0.6,-0.8,0.331,-0.8,0Z",
            "M-0.87,0C-0.87,-0.342,-0.48,-0.62,0,-0.62C0.48,-0.62,0.87,-0.342,0.87,0C0.87,0.342,0.48,0.62,0,0.62C-0.48,0.62,-0.87,0.342,-0.87,0Z",
            "M-1.15,0C-1.15,-0.265,-0.635,-0.48,0,-0.48C0.635,-0.48,1.15,-0.265,1.15,0C1.15,0.265,0.635,0.48,0,0.48C-0.635,0.48,-1.15,0.265,-1.15,0Z",
            "M-1,0C-1,-0.304,-0.552,-0.55,0,-0.55C0.552,-0.55,1,-0.304,1,0C1,0.304,0.552,0.55,0,0.55C-0.552,0.55,-1,0.304,-1,0Z",
            "M-0.9,0C-0.9,-0.331,-0.497,-0.6,0,-0.6C0.497,-0.6,0.9,-0.331,0.9,0C0.9,0.331,0.497,0.6,0,0.6C-0.497,0.6,-0.9,0.331,-0.9,0Z",
            "M-0.84,0C-0.84,-0.276,-0.464,-0.5,0,-0.5C0.464,-0.5,0.84,-0.276,0.84,0C0.84,0.276,0.464,0.5,0,0.5C-0.464,0.5,-0.84,0.276,-0.84,0Z"]}},
          "angle": {"field": "t", "type": "quantitative", "legend": null, "scale": {"domain": [0, 90], "range": [0, -90]}}
        }
      },
      {
        "transform": [{"filter": "datum.k == 'e' && datum.v == 0.17"}],
        "mark": {"type": "rule", "color": "#222222", "strokeWidth": 0.9, "strokeDash": [4, 3]},
        "encoding": {
          "x": {"datum": 2255, "type": "quantitative"},
          "y": {"datum": 2255, "type": "quantitative"},
          "x2": {"datum": 2650},
          "y2": {"datum": 2650}
        }
      },
      {
        "transform": [{"filter": "datum.k == 'c'"}],
        "mark": {"type": "line", "color": "#000000", "strokeWidth": 2.2, "interpolate": "monotone"},
        "encoding": {
          "x": {"field": "x", "type": "quantitative", "title": null},
          "y": {"field": "y", "type": "quantitative", "title": null}
        }
      }
    ]
  }
},
{
  "data": {"name": "bar"},
  "width": 643, "height": 7,
  "view": {"stroke": null, "fill": null},
  "mark": {"type": "rect"},
  "encoding": {
    "x": {"field": "a", "type": "quantitative", "title": null, "scale": {"domain": [-13.78, 1], "nice": false, "zero": false}, "axis": {"orient": "top", "values": [-1, 0, 1], "grid": false, "labelFontSize": 7, "labelPadding": 2, "labelColor": "#222222"}},
    "x2": {"field": "b"},
    "color": {"field": "i", "type": "ordinal", "legend": null, "scale": {"domain": [0,1,2,3,4,5,6,7,8,9,10,11], "range": ["#3b5bd4","#5a7bde","#8ea3e3","#b9c7ee","#dfe5f5","#f3f4f1","#fbf8cc","#fbf39b","#f9e95e","#f2c64b","#ec973e","#dc3a2f"]}}
  }
}
],
"spacing": 6,
"resolve": {"scale": {"color": "independent", "x": "independent", "y": "independent"}}
}
